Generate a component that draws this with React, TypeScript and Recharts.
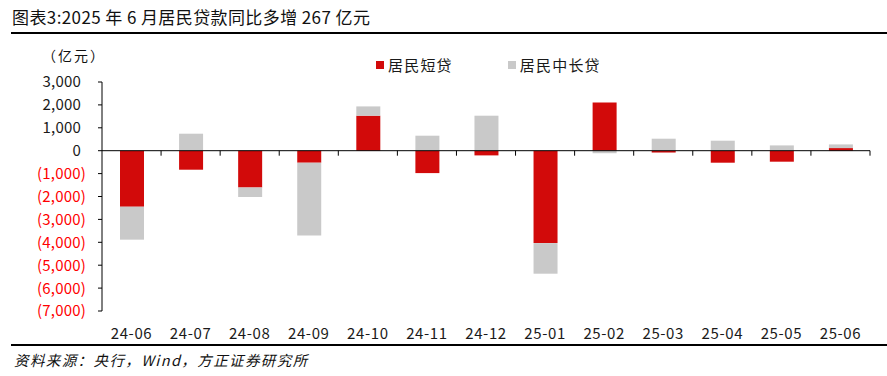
import React from 'react';
import { BarChart, Bar, XAxis, YAxis, ReferenceLine, Legend } from 'recharts';

const categories = ['24-06', '24-07', '24-08', '24-09', '24-10', '24-11', '24-12', '25-01', '25-02', '25-03', '25-04', '25-05', '25-06'];
const shortLoans = [-2445, -830, -1603, -524, 1528, -978, -205, -4035, 2109, -80, -524, -480, 115];
const longLoans = [-1440, 742, -423, -3175, 406, 655, 1528, -1336, -110, 524, 437, 231, 160];
const yTicks = [3000, 2000, 1000, 0, -1000, -2000, -3000, -4000, -5000, -6000, -7000];
const seriesNames = ['居民短贷', '居民中长贷'];

const data = categories.map((c, i) => ({ month: c, short: shortLoans[i], long: longLoans[i] }));

const W = 887;
const H = 376;
const MARGIN = { top: 82, right: 17, bottom: 35, left: 0 };
const Y_AXIS_W = 102;
const X_AXIS_H = 30;
const PLOT_W = W - MARGIN.right - MARGIN.left - Y_AXIS_W;
const PLOT_H = H - MARGIN.top - MARGIN.bottom - X_AXIS_H;
const Y_MAX = yTicks[0];
const Y_MIN = yTicks[yTicks.length - 1];
const ZERO_Y = MARGIN.top + PLOT_H * (Y_MAX / (Y_MAX - Y_MIN));
const BAND = PLOT_W / categories.length;

const RED = '#D20A0A';
const GRAY = '#C9C9C9';
const FONT = '"Noto Sans CJK SC", "Noto Sans", sans-serif';

const fmt = (v: number) => {
  const s = Math.abs(v).toLocaleString('en-US');
  return v < 0 ? `(${s})` : s;
};

const YTick = (props: any) => {
  const { x, y, payload } = props;
  const v = payload.value as number;
  const neg = v < 0;
  return (
    <text x={neg ? x : x - 5} y={y} dy="0.36em" textAnchor="end" fill={neg ? '#FF0000' : '#1a1a1a'} fontSize={15} letterSpacing={0.2} fontFamily={FONT}>
      {fmt(v)}
    </text>
  );
};

const XTick = (props: any) => {
  const { x, y, payload } = props;
  const bx = x + BAND / 2;
  return (
    <g>
      <line x1={bx} x2={bx} y1={ZERO_Y} y2={ZERO_Y + 5} stroke="#000" strokeWidth={1} />
      <text x={x} y={y} dy={20} textAnchor="middle" fill="#1a1a1a" fontSize={15} letterSpacing={0.6} fontFamily={FONT}>
        {payload.value}
      </text>
    </g>
  );
};

const LegendContent = () => (
  <div style={{ display: 'flex', fontFamily: FONT, fontSize: 15, letterSpacing: 1.2, color: '#1a1a1a' }}>
    {[RED, GRAY].map((c, i) => (
      <div key={i} style={{ display: 'flex', alignItems: 'center', marginRight: i === 0 ? 55 : 0 }}>
        <span style={{ display: 'inline-block', width: 8, height: 8, background: c, marginRight: 4 }} />
        <span>{seriesNames[i]}</span>
      </div>
    ))}
  </div>
);

export default function App() {
  return (
    <div style={{ position: 'absolute', left: 0, top: 0, width: W, height: H, background: '#fff', fontFamily: FONT }}>
      <div style={{ position: 'absolute', left: 12, top: 4, fontSize: 17, letterSpacing: 0.4, color: '#111', whiteSpace: 'nowrap' }}>
        图表3:2025 年 6 月居民贷款同比多增 267 亿元
      </div>
      <div style={{ position: 'absolute', left: 11, top: 32, width: W - 11, height: 2, background: '#000' }} />
      <div style={{ position: 'absolute', left: 42, top: 45, fontSize: 14, letterSpacing: 2, color: '#111', whiteSpace: 'nowrap' }}>（亿元）</div>
      <BarChart width={W} height={H} data={data} margin={MARGIN} stackOffset="sign">
        <XAxis dataKey="month" axisLine={false} tickLine={false} height={X_AXIS_H} tick={<XTick />} interval={0} />
        <YAxis
          domain={[Y_MIN, Y_MAX]}
          ticks={yTicks}
          width={Y_AXIS_W}
          tick={<YTick />}
          tickSize={4}
          tickMargin={12}
          axisLine={{ stroke: '#000' }}
          tickLine={{ stroke: '#000' }}
          interval={0}
        />
        <Legend
          layout="horizontal"
          verticalAlign="middle"
          align="center"
          content={<LegendContent />}
          wrapperStyle={{ position: 'absolute', top: 54, left: 376, width: 260 }}
        />
        <Bar dataKey="short" name={seriesNames[0]} stackId="a" fill={RED} barSize={24} isAnimationActive={false} />
        <Bar dataKey="long" name={seriesNames[1]} stackId="a" fill={GRAY} barSize={24} isAnimationActive={false} />
        <ReferenceLine y={0} stroke="#000" strokeWidth={1} />
      </BarChart>
      <div style={{ position: 'absolute', left: 11, top: 344, width: W - 11, height: 2, background: '#000' }} />
      <div style={{ position: 'absolute', left: 14, top: 349, fontSize: 14.5, letterSpacing: 1.4, fontStyle: 'italic', color: '#111', whiteSpace: 'nowrap' }}>
        资料来源：央行，Wind，方正证券研究所
      </div>
    </div>
  );
}
